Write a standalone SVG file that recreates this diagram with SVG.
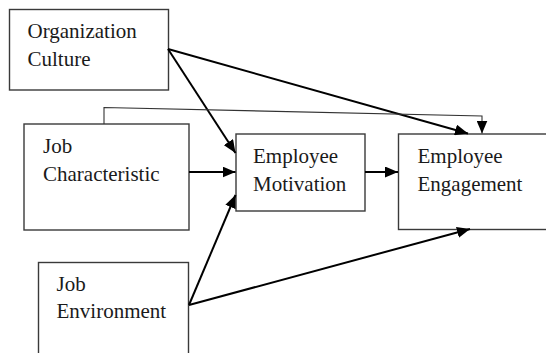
<svg xmlns="http://www.w3.org/2000/svg" width="546" height="353" viewBox="0 0 546 353">
<style>
.box{fill:#fff;stroke:#3a3a3a;stroke-width:1.4}
.t{font-family:"Liberation Serif","Times New Roman",Times,Tinos,"Noto Serif","DejaVu Serif",serif;font-size:21px;fill:#1a1a1a}
.c{fill:none;stroke:#000;stroke-width:2}
.thin{fill:none;stroke:#333;stroke-width:1.1}
</style>
<defs>
<marker id="ah" markerUnits="userSpaceOnUse" markerWidth="13" markerHeight="11" refX="13" refY="5.5" orient="auto">
<path d="M0,0 L13,5.5 L0,11 z" fill="#000"/>
</marker>
</defs>
<rect width="546" height="353" fill="#fff"/>
<g id="org-culture">
<rect class="box" x="9.5" y="9.5" width="159" height="80.5"/>
<text class="t" x="27.5" y="37.5">Organization</text>
<text class="t" x="27.5" y="65.5">Culture</text>
</g>
<g id="job-characteristic">
<rect class="box" x="24" y="124" width="165" height="106"/>
<text class="t" x="43" y="153">Job</text>
<text class="t" x="43" y="180.5">Characteristic</text>
</g>
<g id="job-environment">
<rect class="box" x="38.5" y="262.5" width="150" height="110"/>
<text class="t" x="56.5" y="290.5">Job</text>
<text class="t" x="56.5" y="318">Environment</text>
</g>
<g id="employee-motivation">
<rect class="box" x="236" y="134" width="129" height="77"/>
<text class="t" x="253" y="163">Employee</text>
<text class="t" x="253" y="191">Motivation</text>
</g>
<g id="employee-engagement">
<rect class="box" x="398.5" y="134" width="160" height="95.5"/>
<text class="t" x="417.5" y="163">Employee</text>
<text class="t" x="417.5" y="191">Engagement</text>
</g>
<g id="connectors">
<path class="c" d="M168,49 L235.5,153" marker-end="url(#ah)"/>
<path class="c" d="M168,49 L468,133.5" marker-end="url(#ah)"/>
<path class="c" d="M189,172 L235.5,172" marker-end="url(#ah)"/>
<path class="c" d="M365,172 L398,172" marker-end="url(#ah)"/>
<path class="c" d="M189,305 L235.5,195" marker-end="url(#ah)"/>
<path class="c" d="M189,305 L470,229" marker-end="url(#ah)"/>
<path class="thin" d="M104,124 L104,107.5 L482,116 L482,133.5" marker-end="url(#ah)"/>
</g>
</svg>
